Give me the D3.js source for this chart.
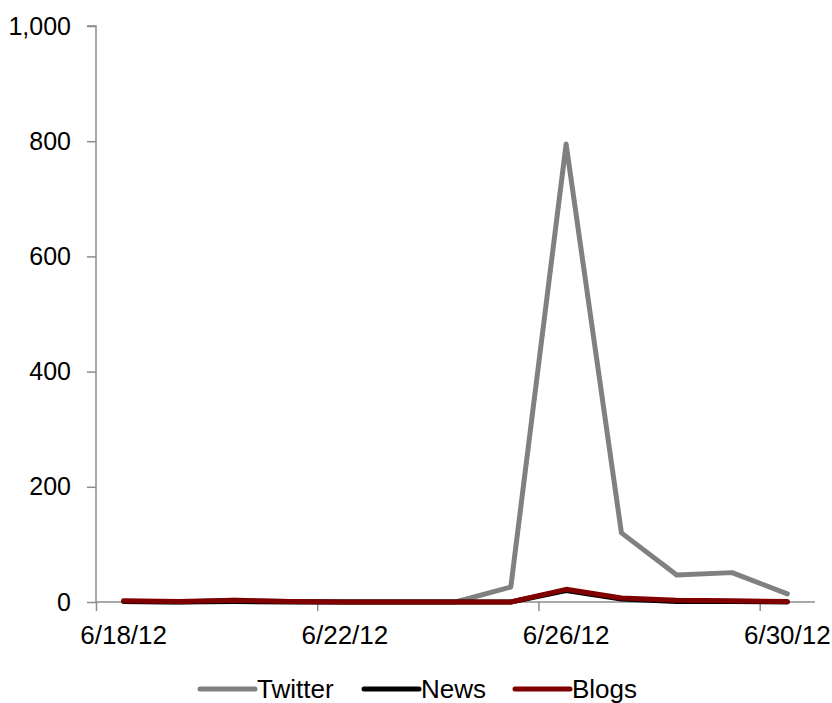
<!DOCTYPE html>
<html><head><meta charset="utf-8">
<script src="https://cdn.jsdelivr.net/npm/d3@7"></script>
<style>body{margin:0;background:#fff}svg{display:block}text{font-family:"Liberation Sans",Arial,sans-serif}</style>
</head><body>
<svg id="c" width="832" height="703"></svg>
<script>
const dates = ["6/18/12","6/19/12","6/20/12","6/21/12","6/22/12","6/23/12","6/24/12","6/25/12","6/26/12","6/27/12","6/28/12","6/29/12","6/30/12"];
const twitterVals = [1, 0, 3, 1, 0, 0, 0, 26, 795, 120, 47, 51, 14];
const newsVals = [1, 0, 1, 0, 0, 0, 0, 0, 20, 5, 1, 1, 0];
const blogsVals = [2, 1, 3, 1, 0, 0, 0, 0, 22, 7, 3, 2, 1];
const yTicks = [0, 200, 400, 600, 800, 1000];
const xTickLabels = ["6/18/12","6/22/12","6/26/12","6/30/12"];
const seriesNames = ["Twitter","News","Blogs"];
const seriesColors = ["#808080","#000000","#800000"];

(function(){
const svg = d3.select("#c");
const mLeft = 96, mRight = 815, mTop = 26, mBottom = 602;
const parse = d3.timeParse("%m/%d/%y");
const dd = dates.map(parse);
const x = d3.scaleTime().domain([dd[0], d3.timeDay.offset(dd[dd.length-1], 1)]).range([mLeft, mRight]);
const y = d3.scaleLinear().domain([0, 1000]).range([mBottom, mTop]);
const fmt = d3.format(",");
const axisColor = "#8c8c8c";

const ya = svg.append("g").attr("transform", `translate(${mLeft},0)`)
  .call(d3.axisLeft(y).tickValues(yTicks).tickSize(9).tickPadding(16).tickFormat(fmt));
ya.select(".domain").attr("stroke", axisColor).attr("stroke-width", 1.5).attr("d", `M-9,${mTop}H0V${mBottom}`);
ya.selectAll(".tick line").attr("stroke", axisColor).attr("stroke-width", 1.5);
ya.selectAll("text").attr("font-size", 25).attr("fill", "#000").attr("font-family", '"Liberation Sans",Arial,sans-serif');

const xTickDates = xTickLabels.map(parse);
const xa = svg.append("g").attr("transform", `translate(0,${mBottom})`)
  .call(d3.axisBottom(x).tickValues(xTickDates).tickSize(9).tickFormat(""));
xa.select(".domain").attr("stroke", axisColor).attr("stroke-width", 1.5).attr("d", `M${mLeft},0H${mRight}`);
xa.selectAll(".tick line").attr("stroke", axisColor).attr("stroke-width", 1.5);
const half = (x(dd[1]) - x(dd[0])) / 2;
svg.append("g").selectAll("text").data(xTickDates).join("text")
  .attr("x", d => x(d) + half).attr("y", mBottom + 42)
  .attr("text-anchor", "middle").attr("font-size", 26).attr("fill", "#000")
  .text((d, i) => xTickLabels[i]);

const line = d3.line().x((d, i) => x(dd[i]) + half).y(d => y(d));
[twitterVals, newsVals, blogsVals].forEach((vals, k) => {
  svg.append("path").attr("d", line(vals)).attr("fill", "none")
    .attr("stroke", seriesColors[k]).attr("stroke-width", 5)
    .attr("stroke-linejoin", "round").attr("stroke-linecap", "round");
});

const legX = [200, 364, 515];
const lg = svg.append("g");
seriesNames.forEach((n, i) => {
  lg.append("line").attr("x1", legX[i]).attr("x2", legX[i] + 55).attr("y1", 689).attr("y2", 689)
    .attr("stroke", seriesColors[i]).attr("stroke-width", 5).attr("stroke-linecap", "round");
  lg.append("text").attr("x", legX[i] + 57).attr("y", 698).attr("font-size", 26).attr("fill", "#000").text(n);
});
})();
</script>
</body></html>
